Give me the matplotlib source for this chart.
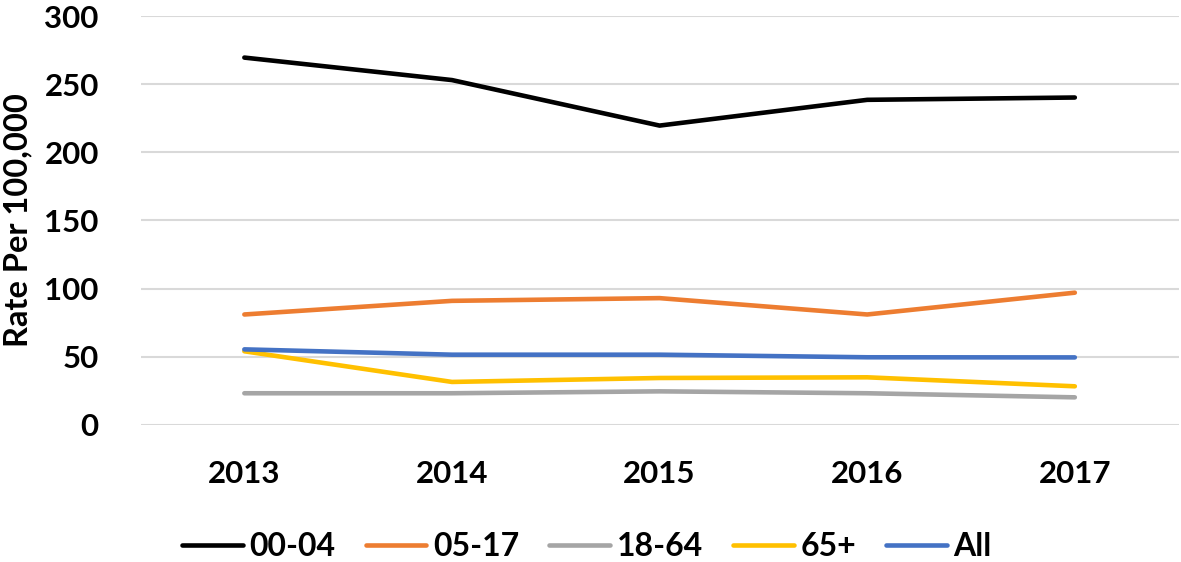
import matplotlib.pyplot as plt

years = ['2013', '2014', '2015', '2016', '2017']
age_00_04 = [269.5, 253, 219.6, 238.5, 240.2]
age_05_17 = [81, 91, 93, 81, 97]
age_18_64 = [23.2, 23.2, 24.6, 23.2, 20.2]
age_65_up = [54, 31.5, 34.4, 34.9, 28.3]
age_all = [55.4, 51.5, 51.5, 49.6, 49.5]

series = [
    ('00-04', age_00_04, '#000000'),
    ('05-17', age_05_17, '#ED7D31'),
    ('18-64', age_18_64, '#A5A5A5'),
    ('65+', age_65_up, '#FFC000'),
    ('All', age_all, '#4472C4'),
]

plt.rcParams['font.family'] = ['Lato', 'DejaVu Sans']
plt.rcParams['font.weight'] = 'bold'

fig = plt.figure(figsize=(11.81, 5.62), dpi=100)
ax = fig.add_axes([0.119, 0.244, 0.879, 0.7275])

x = range(len(years))
for name, vals, col in series:
    ax.plot(x, vals, color=col, lw=3.3, label=name, solid_capstyle='round')

ax.set_xlim(-0.5, 4.5)
ax.set_ylim(0, 300)
ax.set_yticks(range(0, 301, 50))
ax.set_xticks(list(x))
ax.set_xticklabels(years)
ax.grid(axis='y', color='#d9d9d9', lw=1.5)
ax.set_axisbelow(True)
for s in ax.spines.values():
    s.set_visible(False)
ax.tick_params(length=0, labelsize=22.5)
ax.tick_params(axis='x', pad=25)
ax.tick_params(axis='y', pad=30)
for lab in ax.get_xticklabels() + ax.get_yticklabels():
    lab.set_fontweight('bold')
ax.set_ylabel('Rate Per 100,000', fontsize=23.5, fontweight='bold')
ax.yaxis.set_label_coords(-0.104, 0.5)

fig.legend(loc='center', bbox_to_anchor=(0.497, 0.028), ncol=5, frameon=False,
           handlelength=1.9, columnspacing=0.95, handletextpad=0.2,
           prop={'weight': 'bold', 'size': 23})

fig.savefig('out.png', dpi=100)
